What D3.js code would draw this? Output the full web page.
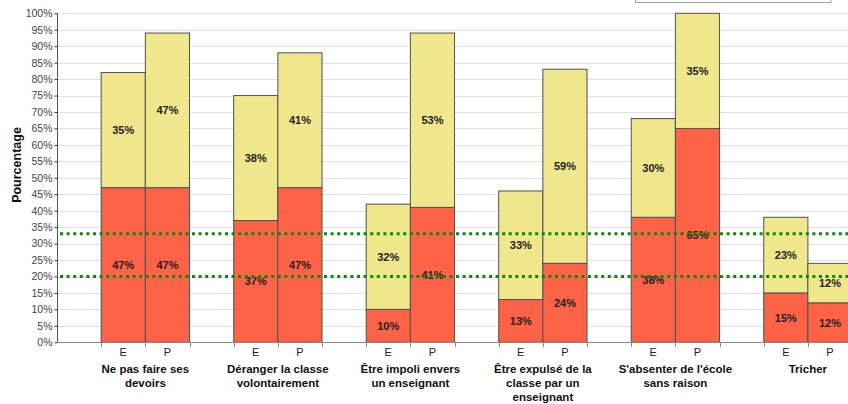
<!DOCTYPE html>
<html><head><meta charset="utf-8">
<script src="https://cdn.jsdelivr.net/npm/d3@7"></script>
<style>body{margin:0;background:#fff;overflow:hidden}svg{display:block;font-family:"Liberation Sans",Arial,sans-serif}</style>
</head><body>
<script>
const categories = [
  ["Ne pas faire ses","devoirs"],
  ["Déranger la classe","volontairement"],
  ["Être impoli envers","un enseignant"],
  ["Être expulsé de la","classe par un","enseignant"],
  ["S'absenter de l'école","sans raison"],
  ["Tricher"]
];
const groups = ["E","P"];
const redE    = [47, 37, 10, 13, 38, 15];
const yellowE = [35, 38, 32, 33, 30, 23];
const redP    = [47, 47, 41, 24, 65, 12];
const yellowP = [47, 41, 53, 59, 35, 12];
const refLines = [33, 20];
const yTicks = d3.range(0, 101, 5);

const W = 848, H = 404;
const svg = d3.select("body").append("svg").attr("width", W).attr("height", H);

const x0 = 57, slotW = 44.17;
const slots = [];
categories.forEach((c, i) => { slots.push("blank" + i); groups.forEach(g => slots.push(i + "|" + g)); });
slots.push("blankEnd");
const x = d3.scaleBand().domain(slots).range([x0, x0 + slots.length * slotW]).padding(0);
const y = d3.scaleLinear().domain([0, 100]).range([342.3, 13.3]);

// legend box remnant
svg.append("rect").attr("x", 635.5).attr("y", -20).attr("width", 195.5).attr("height", 22.5)
  .attr("fill", "#fff").attr("stroke", "#a0a0a0").attr("stroke-width", 1);

// gridlines
svg.append("g").selectAll("line").data(yTicks.filter(t => t > 0)).join("line")
  .attr("x1", x0).attr("x2", W).attr("y1", d => Math.round(y(d)) + 0.5).attr("y2", d => Math.round(y(d)) + 0.5)
  .attr("stroke", "#e0e0e0").attr("stroke-width", 1);

// y axis
const yAxis = d3.axisLeft(y).tickValues(yTicks).tickFormat(d => d + "%").tickSize(3).tickPadding(2);
const ya = svg.append("g").attr("transform", `translate(${x0 + 0.5},0)`).call(yAxis);
ya.select(".domain").attr("stroke", "#555").attr("d", `M0,${y(100)}V${y(0)}`);
ya.selectAll(".tick line").attr("stroke", "#333");
ya.selectAll("text").attr("font-size", "10.5px").attr("fill", "#444").attr("font-family", "Liberation Sans, Arial, sans-serif");

svg.append("text").attr("transform", `translate(21,165) rotate(-90)`).attr("text-anchor", "middle")
  .attr("font-weight", "bold").attr("font-size", "12.5px").attr("fill", "#111").text("Pourcentage");

// bars
const data = [];
categories.forEach((c, i) => {
  data.push({slot: i + "|E", red: redE[i], yel: yellowE[i]});
  data.push({slot: i + "|P", red: redP[i], yel: yellowP[i]});
});
const bars = svg.append("g");
data.forEach(d => {
  const bx = x(d.slot), bw = x.bandwidth();
  bars.append("rect").attr("x", bx).attr("width", bw).attr("y", y(d.red)).attr("height", y(0) - y(d.red))
    .attr("fill", "#FF6347").attr("stroke", "#505050").attr("stroke-width", 1);
  bars.append("rect").attr("x", bx).attr("width", bw).attr("y", y(d.red + d.yel)).attr("height", y(d.red) - y(d.red + d.yel))
    .attr("fill", "#F0E68C").attr("stroke", "#505050").attr("stroke-width", 1);
  bars.append("text").attr("x", bx + bw / 2).attr("y", y(d.red / 2) + 4).attr("text-anchor", "middle")
    .attr("font-weight", "bold").attr("font-size", "11px").attr("fill", "#222").text(d.red + "%");
  bars.append("text").attr("x", bx + bw / 2).attr("y", y(d.red + d.yel / 2) + 4).attr("text-anchor", "middle")
    .attr("font-weight", "bold").attr("font-size", "11px").attr("fill", "#222").text(d.yel + "%");
});

// x axis
const xa = svg.append("g");
xa.append("line").attr("x1", x0).attr("x2", W).attr("y1", Math.round(y(0)) + 0.5).attr("y2", Math.round(y(0)) + 0.5)
  .attr("stroke", "#888");
const bounds = slots.slice(1).map(s => x(s));
xa.selectAll(".tk").data(bounds).join("line").attr("class", "tk")
  .attr("x1", d => Math.round(d) + 0.5).attr("x2", d => Math.round(d) + 0.5)
  .attr("y1", Math.round(y(0))).attr("y2", Math.round(y(0)) + 5).attr("stroke", "#888");
data.forEach(d => {
  xa.append("text").attr("x", x(d.slot) + x.bandwidth() / 2).attr("y", 356).attr("text-anchor", "middle")
    .attr("font-size", "11px").attr("fill", "#222").text(d.slot.split("|")[1]);
});
categories.forEach((c, i) => {
  const cx = x(i + "|P");
  const t = xa.append("text").attr("text-anchor", "middle").attr("font-weight", "bold")
    .attr("font-size", "11.5px").attr("fill", "#111");
  c.forEach((line, j) => t.append("tspan").attr("x", cx).attr("y", 373 + j * 14).text(line));
});

// reference lines
svg.append("g").selectAll("line").data(refLines).join("line")
  .attr("x1", x0 + 3).attr("x2", W).attr("y1", d => y(d)).attr("y2", d => y(d))
  .attr("stroke", "#0a8a0a").attr("stroke-width", 3).attr("stroke-dasharray", "3,3.6");
</script>
</body></html>
